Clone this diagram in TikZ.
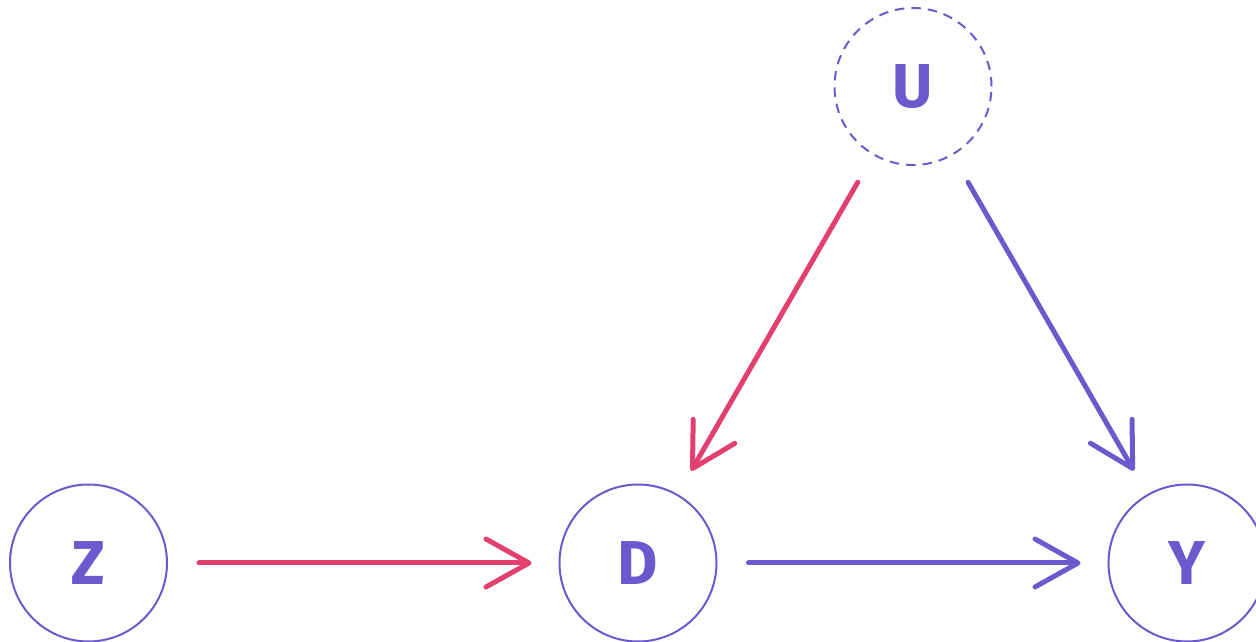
\documentclass[tikz,border=0pt]{standalone}
\usepackage{fontspec}
\setmainfont{Fira Sans}
\usetikzlibrary{arrows.meta}
\definecolor{vpurple}{HTML}{6A5ACD}
\definecolor{vpink}{HTML}{E2406E}
\begin{document}
\begin{tikzpicture}[x=1pt,y=1pt,
  var/.style={circle, draw=vpurple, line width=2pt, minimum size=157pt, inner sep=0pt,
    text=vpurple, font=\fontsize{62}{62}\selectfont\bfseries},
  latent/.style={var, dashed, dash pattern=on 9.5pt off 7pt},
  edge/.style={line width=5pt, line cap=round,
    -{Straight Barb[length=43pt,width=48pt,line width=5pt,round]},
    shorten <=31pt, shorten >=27pt}]
\useasboundingbox (0,0) rectangle (1256,642);
\node[var] (Z) at (88.5,79) {Z};
\node[var] (D) at (638,79) {D};
\node[var] (Y) at (1187,79) {Y};
\node[latent] (U) at (913,555.5) {U};
\draw[edge, vpink] (Z) -- (D);
\draw[edge, vpurple] (D) -- (Y);
\draw[edge, vpink] (U) -- (D);
\draw[edge, vpurple] (U) -- (Y);
\end{tikzpicture}
\end{document}
